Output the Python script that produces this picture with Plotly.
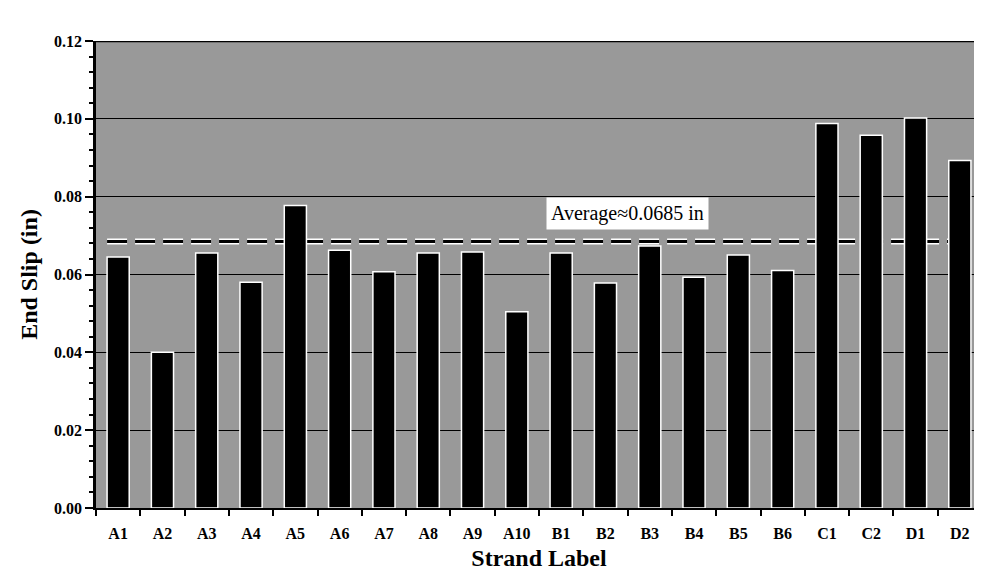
import plotly.graph_objects as go

# strand labels and measured end slip (in)
strands = ["A1", "A2", "A3", "A4", "A5", "A6", "A7", "A8", "A9", "A10",
           "B1", "B2", "B3", "B4", "B5", "B6", "C1", "C2", "D1", "D2"]
end_slip = [0.0645, 0.0400, 0.0655, 0.0580, 0.0777, 0.0662, 0.0607, 0.0655, 0.0658, 0.0504,
            0.0655, 0.0578, 0.0673, 0.0593, 0.0650, 0.0610, 0.0988, 0.0958, 0.1002, 0.0893]
average = 0.0685
avg_text = "Average\u22480.0685 in"

serif = "Liberation Serif, Times New Roman, serif"

fig = go.Figure()
fig.add_trace(go.Bar(
    x=strands, y=end_slip,
    marker=dict(color="black", line=dict(color="white", width=1.5)),
    showlegend=False,
))

# average line, drawn under the bars
for col, w in [("white", 6), ("black", 3)]:
    fig.add_shape(type="line", xref="x", yref="y", layer="between",
                  x0=-0.25, x1=19.25, y0=average, y1=average,
                  line=dict(color=col, width=w, dash="20px,8px"))

# top border of the plot box
fig.add_shape(type="line", xref="paper", yref="y", x0=0, x1=1, y0=0.12, y1=0.12,
              line=dict(color="black", width=2.5))

fig.add_annotation(x=11.5, y=0.0758, xref="x", yref="y", text=avg_text, showarrow=False,
                   bgcolor="white", borderpad=4, font=dict(family=serif, size=20, color="black"))

fig.update_layout(
    width=982, height=578,
    margin=dict(l=88, r=8, t=33, b=78),
    paper_bgcolor="white", plot_bgcolor="#999999",
    bargap=0.5,
    font=dict(family=serif, color="black"),
)
fig.update_xaxes(
    showline=True, linecolor="black", linewidth=2,
    ticks="outside", tickson="boundaries", ticklen=6, tickcolor="black", tickwidth=1.5,
    ticklabelstandoff=10,
    tickfont=dict(family=serif, size=16, color="black", weight="bold"),
    showgrid=False,
    title=dict(text="<b>Strand Label</b>", font=dict(family=serif, size=24, color="black"), standoff=8),
)
fig.update_yaxes(
    range=[0, 0.12], dtick=0.02, tickformat=".2f",
    showline=True, linecolor="black", linewidth=2.5,
    ticks="outside", ticklen=8, tickcolor="black", tickwidth=1.5,
    minor=dict(dtick=0.004, ticks="outside", ticklen=4, tickcolor="black", showgrid=False),
    showgrid=True, gridcolor="black", gridwidth=1,
    zeroline=False,
    tickfont=dict(family=serif, size=16, color="black", weight="bold"),
    title=dict(text="<b>End Slip (in)</b>", font=dict(family=serif, size=24, color="black"), standoff=10),
)

fig.write_html("out.html")
